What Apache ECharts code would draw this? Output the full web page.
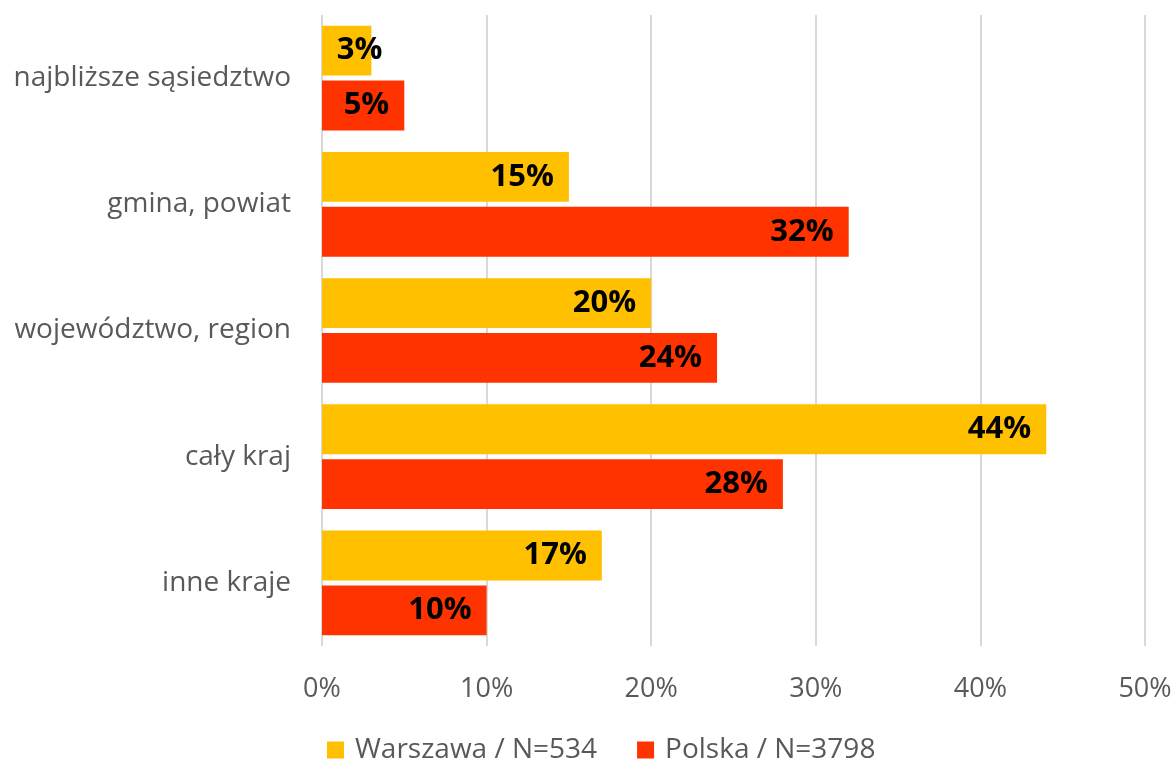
<!DOCTYPE html>
<html>
<head>
<meta charset="utf-8">
<script src="https://cdn.jsdelivr.net/npm/echarts@6/dist/echarts.min.js"></script>
<style>
  html, body { margin: 0; padding: 0; background: #fff; }
  #chart { width: 1176px; height: 762px; }
</style>
</head>
<body>
<div id="chart"></div>
<script>
// categories, top to bottom
const categories = ["najbliższe sąsiedztwo", "gmina, powiat", "województwo, region", "cały kraj", "inne kraje"];
const warszawa = [3, 15, 20, 44, 17];
const polska = [5, 32, 24, 28, 10];
const seriesNames = ["Warszawa / N=534", "Polska / N=3798"];
const xTicks = [0, 10, 20, 30, 40, 50];

const FONT = "Open Sans";

const chart = echarts.init(document.getElementById("chart"));

// tiny bars get their label nudged past the end, like the original
function toData(vals) {
  return vals.map((v) =>
    v < 4
      ? { value: v, label: { position: "inside", offset: [13, 0] } }
      : v
  );
}

const labelStyle = {
  show: true,
  position: "insideRight",
  distance: 15,
  formatter: "{c}%",
  color: "#000",
  fontFamily: FONT,
  fontWeight: "bold",
  fontSize: 31,
};

chart.setOption({
  animation: false,
  backgroundColor: "#fff",
  textStyle: { fontFamily: FONT },
  grid: { left: 322, right: 31, top: 15, bottom: 116 },
  legend: {
    top: 731,
    left: 322,
    itemWidth: 17,
    itemHeight: 17,
    itemGap: 40,
    icon: "rect",
    textStyle: { color: "#595959", fontSize: 28, fontFamily: FONT, padding: [0, 0, 0, 6] },
    data: seriesNames,
  },
  xAxis: {
    type: "value",
    min: xTicks[0],
    max: xTicks[xTicks.length - 1],
    interval: 10,
    axisLine: { show: false },
    axisTick: { show: false },
    axisLabel: { color: "#595959", fontSize: 27, fontFamily: FONT, margin: 30, formatter: "{value}%" },
    splitLine: { lineStyle: { color: "#d9d9d9", width: 2 } },
  },
  yAxis: {
    type: "category",
    inverse: true,
    data: categories,
    axisLine: { show: false },
    axisTick: { show: false },
    axisLabel: { color: "#595959", fontSize: 28, fontFamily: FONT, margin: 31 },
  },
  series: [
    {
      name: seriesNames[0],
      type: "bar",
      data: toData(warszawa),
      barGap: "10%",
      barCategoryGap: "17%",
      itemStyle: { color: "#ffc000" },
      label: labelStyle,
    },
    {
      name: seriesNames[1],
      type: "bar",
      data: toData(polska),
      barGap: "10%",
      barCategoryGap: "17%",
      itemStyle: { color: "#ff3300" },
      label: labelStyle,
    },
  ],
});
</script>
</body>
</html>
